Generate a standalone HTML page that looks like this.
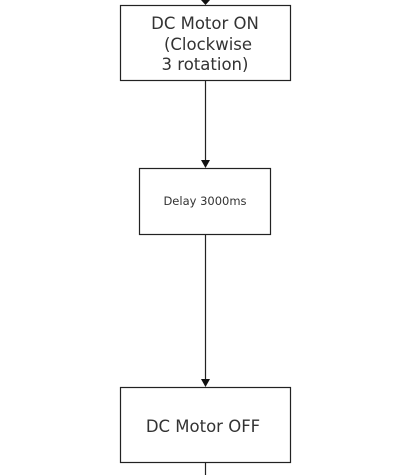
<!DOCTYPE html>
<html><head><style>
html,body{margin:0;padding:0;background:#fff;width:402px;height:475px;overflow:hidden}
</style></head><body>
<svg width="402" height="475" xmlns="http://www.w3.org/2000/svg" style="display:block">
<g stroke="#222" stroke-width="1.2" fill="none">
<line x1="205.5" y1="0" x2="205.5" y2="1"/>
<line x1="205.5" y1="81" x2="205.5" y2="162"/>
<line x1="205.5" y1="234" x2="205.5" y2="381"/>
<line x1="205.5" y1="463" x2="205.5" y2="475"/>
<rect x="120.5" y="5.5" width="170" height="75" fill="#fff"/>
<rect x="139.5" y="168.5" width="131" height="66" fill="#fff"/>
<rect x="120.5" y="387.5" width="170" height="75" fill="#fff"/>
</g>
<g fill="#111">
<polygon points="201,0 210,0 205.5,5"/>
<polygon points="201,160 210,160 205.5,168"/>
<polygon points="201,379 210,379 205.5,387"/>
</g>
<g font-family="'DejaVu Sans','Liberation Sans',sans-serif" fill="#333" text-anchor="middle">
<text x="205" y="29" font-size="16.5">DC Motor ON</text>
<text x="208" y="50" font-size="16.5">(Clockwise</text>
<text x="205" y="70" font-size="16.5">3 rotation)</text>
<text x="205" y="205" font-size="11.5">Delay 3000ms</text>
<text x="203" y="432" font-size="16.5">DC Motor OFF</text>
</g>
</svg>
</body></html>
